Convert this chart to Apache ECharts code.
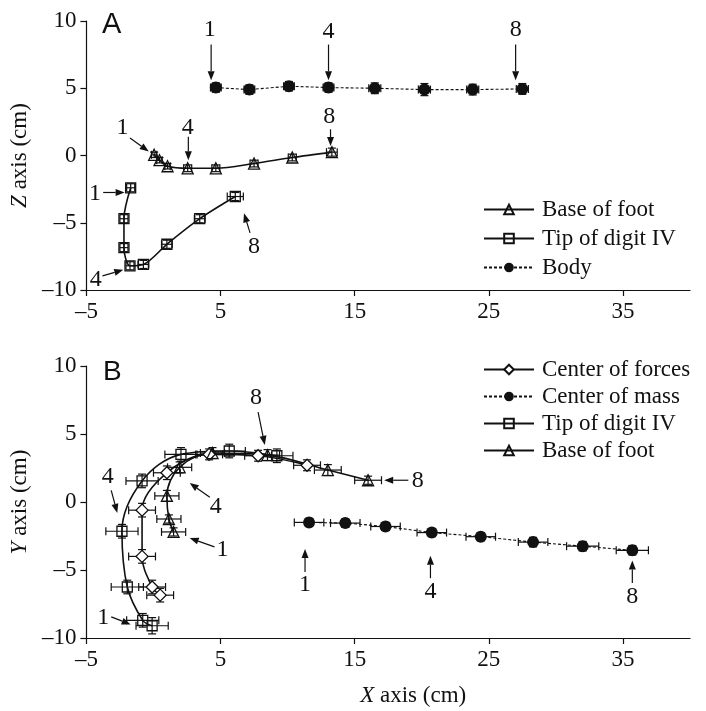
<!DOCTYPE html>
<html><head><meta charset="utf-8">
<script src="https://cdn.jsdelivr.net/npm/echarts@6/dist/echarts.min.js"></script>
<style>html,body{margin:0;padding:0;background:#fff}#c{width:706px;height:711px}</style>
</head><body><div id="c"></div>
<script>
// ---------- data ----------
const xTicks = [-5, 5, 15, 25, 35];
const yTicks = [-10, -5, 0, 5, 10];

// Panel A (X vs Z)
const baseA_x = [0.05, 0.45, 1.05, 2.55, 4.65, 7.5, 10.35, 13.3];
const baseA_y = [0.05, -0.35, -0.8, -0.95, -0.95, -0.6, -0.15, 0.25];
const baseA_xe = [0.2, 0.2, 0.2, 0.3, 0.3, 0.3, 0.3, 0.4];
const baseA_ye = [0.2, 0.2, 0.2, 0.25, 0.25, 0.25, 0.25, 0.3];

const tipA_x = [-1.7, -2.2, -2.2, -1.75, -0.75, 1.0, 3.45, 6.1];
const tipA_y = [-2.4, -4.7, -6.85, -8.2, -8.1, -6.6, -4.7, -3.05];
const tipA_xe = [0.3, 0.3, 0.3, 0.3, 0.4, 0.4, 0.4, 0.6];
const tipA_ye = [0.3, 0.3, 0.3, 0.3, 0.3, 0.3, 0.3, 0.3];

const bodyA_x = [4.65, 7.15, 10.1, 13.05, 16.5, 20.2, 23.8, 27.5];
const bodyA_y = [5.05, 4.9, 5.15, 5.05, 5.0, 4.9, 4.9, 4.95];
const bodyA_xe = [0.4, 0.4, 0.4, 0.4, 0.45, 0.45, 0.45, 0.45];
const bodyA_ye = [0.35, 0.35, 0.35, 0.35, 0.4, 0.45, 0.4, 0.4];

// Panel B (X vs Y)
const cofB_x = [0.5, -0.1, -0.85, -0.85, 1.0, 4.15, 7.8, 11.45];
const cofB_y = [-6.85, -6.25, -4.0, -0.6, 2.15, 3.5, 3.4, 2.7];
const cofB_xe = [1.0, 1.0, 1.0, 1.0, 1.0, 1.0, 1.0, 1.0];
const cofB_ye = [0.5, 0.5, 0.5, 0.5, 0.5, 0.4, 0.4, 0.4];

const comB_x = [11.6, 14.3, 17.3, 20.75, 24.4, 28.3, 32.0, 35.7];
const comB_y = [-1.5, -1.55, -1.8, -2.25, -2.55, -2.95, -3.25, -3.55];
const comB_xe = [1.1, 1.1, 1.1, 1.1, 1.1, 1.1, 1.2, 1.2];
const comB_ye = [0.3, 0.3, 0.3, 0.3, 0.3, 0.35, 0.35, 0.35];

const tipB_x = [-0.1, -0.8, -1.95, -2.35, -0.85, 2.05, 5.65, 9.2];
const tipB_y = [-9.1, -8.7, -6.25, -2.15, 1.55, 3.5, 3.75, 3.4];
const tipB_xe = [1.2, 1.2, 1.2, 1.2, 1.2, 1.2, 1.2, 1.2];
const tipB_ye = [0.6, 0.5, 0.5, 0.5, 0.5, 0.5, 0.5, 0.5];

const baseB_x = [1.5, 1.15, 1.0, 1.95, 4.4, 8.5, 13.0, 16.0];
const baseB_y = [-2.2, -1.25, 0.45, 2.55, 3.6, 3.45, 2.35, 1.6];
const baseB_xe = [0.9, 0.9, 0.9, 0.9, 0.9, 0.9, 1.0, 1.0];
const baseB_ye = [0.3, 0.3, 0.4, 0.4, 0.4, 0.4, 0.4, 0.3];

// annotations: [labelX, labelY, arrowFromX, arrowFromY, arrowToX, arrowToY, text]
const annA = [
  [4.2, 9.35, 4.3, 8.25, 4.3, 5.6, '1'],
  [13.05, 9.2, 13.05, 8.25, 13.05, 5.6, '4'],
  [27.0, 9.35, 27.0, 8.25, 27.0, 5.6, '8'],
  [-2.3, 2.1, -1.75, 1.3, -0.35, 0.3, '1'],
  [2.55, 2.05, 2.6, 1.4, 2.6, -0.35, '4'],
  [13.1, 2.85, 13.2, 1.95, 13.2, 0.7, '8'],
  [-4.35, -2.85, -3.75, -2.75, -2.15, -2.75, '1'],
  [-4.3, -9.25, -3.8, -8.95, -2.25, -8.5, '4'],
  [7.5, -6.8, 7.2, -5.75, 6.75, -4.3, '8']
];
const annB = [
  [7.65, 7.65, 7.8, 6.6, 8.3, 4.2, '8'],
  [-3.4, 1.85, -3.15, 0.85, -2.7, -0.8, '4'],
  [-3.75, -8.5, -3.15, -8.45, -1.7, -9.0, '1'],
  [4.65, -0.35, 4.2, 0.35, 2.7, 1.4, '4'],
  [5.15, -3.5, 4.55, -3.3, 2.7, -2.65, '1'],
  [11.3, -6.1, 11.3, -5.15, 11.3, -3.45, '1'],
  [20.65, -6.6, 20.65, -5.6, 20.65, -3.95, '4'],
  [35.7, -7.0, 35.7, -5.95, 35.7, -4.3, '8'],
  [19.7, 1.6, 19.0, 1.6, 17.2, 1.6, '8']
];

// ---------- helpers ----------
const zip = (xs, ys) => xs.map((x, i) => [x, ys[i]]);
const zipErr = (xs, ys, xe, ye) => xs.map((x, i) => [x, ys[i], xe[i], ye[i]]);
const FONT = '"Liberation Serif", "Times New Roman", serif';
const BLACK = '#111';
const FS = 23;

function errRender(params, api) {
  const x = api.value(0), y = api.value(1), xe = api.value(2), ye = api.value(3);
  const l = api.coord([x - xe, y]), r = api.coord([x + xe, y]);
  const b = api.coord([x, y - ye]), t = api.coord([x, y + ye]);
  const c = 4;
  const st = { stroke: BLACK, lineWidth: 1.2 };
  const mk = (x1, y1, x2, y2) => ({ type: 'line', shape: { x1, y1, x2, y2 }, style: st });
  return {
    type: 'group',
    children: [
      mk(l[0], l[1], r[0], r[1]),
      mk(l[0], l[1] - c, l[0], l[1] + c),
      mk(r[0], r[1] - c, r[0], r[1] + c),
      mk(b[0], b[1], t[0], t[1]),
      mk(b[0] - c, b[1], b[0] + c, b[1]),
      mk(t[0] - c, t[1], t[0] + c, t[1])
    ]
  };
}

function annRender(params, api) {
  const p = api.coord([api.value(0), api.value(1)]);
  const a = api.coord([api.value(2), api.value(3)]);
  const b = api.coord([api.value(4), api.value(5)]);
  const txt = params.context.texts[params.dataIndex];
  const dx = b[0] - a[0], dy = b[1] - a[1];
  const len = Math.sqrt(dx * dx + dy * dy) || 1;
  const ux = dx / len, uy = dy / len;
  const hl = 9, hw = 3.5;
  const bx = b[0] - ux * hl, by = b[1] - uy * hl;
  return {
    type: 'group',
    children: [
      { type: 'line', shape: { x1: a[0], y1: a[1], x2: bx, y2: by }, style: { stroke: BLACK, lineWidth: 1.2 } },
      { type: 'polygon', shape: { points: [[b[0], b[1]], [bx - uy * hw, by + ux * hw], [bx + uy * hw, by - ux * hw]] }, style: { fill: BLACK } },
      { type: 'text', x: p[0], y: p[1], style: { text: txt, font: '24px ' + FONT, fill: BLACK, align: 'center', verticalAlign: 'middle' } }
    ]
  };
}

function annSeries(arr, idx) {
  return {
    type: 'custom', xAxisIndex: idx, yAxisIndex: idx, silent: true, z: 10, clip: false,
    data: arr.map(r => r.slice(0, 6)),
    renderItem: (params, api) => { params.context.texts = arr.map(r => r[6]); return annRender(params, api); }
  };
}

function errSeries(xs, ys, xe, ye, idx) {
  return { type: 'custom', xAxisIndex: idx, yAxisIndex: idx, silent: true, z: 3,
    data: zipErr(xs, ys, xe, ye), renderItem: errRender };
}

const styles = {
  base: { symbol: 'triangle', symbolSize: 11, itemStyle: { color: 'rgba(255,255,255,0)', borderColor: BLACK, borderWidth: 1.3 }, lineStyle: { color: BLACK, width: 1.6, type: 'solid' } },
  tip: { symbol: 'rect', symbolSize: 10, itemStyle: { color: 'rgba(255,255,255,0)', borderColor: BLACK, borderWidth: 1.3 }, lineStyle: { color: BLACK, width: 1.6, type: 'solid' } },
  cof: { symbol: 'diamond', symbolSize: 12, itemStyle: { color: '#fff', borderColor: BLACK, borderWidth: 1.3 }, lineStyle: { color: BLACK, width: 1.6, type: 'solid' } },
  dot: { symbol: 'circle', symbolSize: 12, itemStyle: { color: BLACK, borderColor: BLACK, borderWidth: 0 }, lineStyle: { color: BLACK, width: 1.1, type: [3, 2] } }
};

function lineSeries(name, xs, ys, st, idx, smooth) {
  return Object.assign({
    name, type: 'line', xAxisIndex: idx, yAxisIndex: idx, data: zip(xs, ys),
    smooth: smooth, showAllSymbol: true, z: 5, animation: false
  }, JSON.parse(JSON.stringify(st)));
}

const fmt = v => String(v).replace('-', '\u2013');
const nameStyle = (extra) => Object.assign({ color: BLACK, fontFamily: FONT, fontSize: FS,
  rich: { it: { fontStyle: 'italic', fontFamily: FONT, fontSize: FS, color: BLACK } } }, extra || {});

function xAxis(idx, withName) {
  return {
    type: 'value', gridIndex: idx, min: -5, max: 40, interval: 10,
    axisLine: { onZero: false, lineStyle: { color: BLACK, width: 1.2 } },
    axisTick: { length: 6, lineStyle: { color: BLACK, width: 1.2 }, customValues: xTicks },
    axisLabel: { color: BLACK, fontFamily: FONT, fontSize: FS, margin: 10, formatter: fmt, customValues: xTicks },
    splitLine: { show: false },
    name: withName ? '{it|X} axis (cm)' : '',
    nameLocation: 'middle', nameGap: 46,
    nameTextStyle: nameStyle({ padding: [0, 0, 0, 50] })
  };
}
function yAxis(idx, letter) {
  return {
    type: 'value', gridIndex: idx, min: -10, max: 10, interval: 5,
    axisLine: { show: true, onZero: false, lineStyle: { color: BLACK, width: 1.2 } },
    axisTick: { show: true, length: 6, lineStyle: { color: BLACK, width: 1.2 } },
    axisLabel: { color: BLACK, fontFamily: FONT, fontSize: FS, margin: 10, formatter: fmt },
    splitLine: { show: false },
    name: '{it|' + letter + '} axis (cm)', nameLocation: 'middle', nameGap: 40, nameRotate: 90,
    nameTextStyle: nameStyle()
  };
}

const legendText = { color: BLACK, fontFamily: FONT, fontSize: FS, padding: [0, 0, 0, 3] };

const option = {
  animation: false,
  backgroundColor: '#fff',
  grid: [
    { left: 83, top: 21, right: 16, height: 269 },
    { left: 83, top: 366, right: 16, height: 272 }
  ],
  xAxis: [xAxis(0, false), xAxis(1, true)],
  yAxis: [yAxis(0, 'Z'), yAxis(1, 'Y')],
  legend: [
    { orient: 'vertical', left: 478, top: 193, itemWidth: 50, itemHeight: 12, itemGap: 6, textStyle: legendText, data: ['Base of foot', 'Tip of digit IV', 'Body'], selectedMode: false },
    { orient: 'vertical', left: 478, top: 353, itemWidth: 50, itemHeight: 12, itemGap: 4, textStyle: legendText, data: ['Center of forces', 'Center of mass', 'Tip of digit IV', 'Base of foot'], selectedMode: false }
  ],
  graphic: [
    { type: 'text', left: 102, top: 10, style: { text: 'A', font: '29px "Liberation Sans", Arial, sans-serif', fill: BLACK } },
    { type: 'text', left: 103, top: 358, style: { text: 'B', font: '28px "Liberation Sans", Arial, sans-serif', fill: BLACK } }
  ],
  series: [
    errSeries(baseA_x, baseA_y, baseA_xe, baseA_ye, 0),
    errSeries(tipA_x, tipA_y, tipA_xe, tipA_ye, 0),
    errSeries(bodyA_x, bodyA_y, bodyA_xe, bodyA_ye, 0),
    lineSeries('Base of foot', baseA_x, baseA_y, styles.base, 0, 0.3),
    lineSeries('Tip of digit IV', tipA_x, tipA_y, styles.tip, 0, 0.3),
    lineSeries('Body', bodyA_x, bodyA_y, styles.dot, 0, false),
    annSeries(annA, 0),

    errSeries(cofB_x, cofB_y, cofB_xe, cofB_ye, 1),
    errSeries(comB_x, comB_y, comB_xe, comB_ye, 1),
    errSeries(tipB_x, tipB_y, tipB_xe, tipB_ye, 1),
    errSeries(baseB_x, baseB_y, baseB_xe, baseB_ye, 1),
    lineSeries('Center of forces', cofB_x, cofB_y, styles.cof, 1, 0.35),
    lineSeries('Center of mass', comB_x, comB_y, styles.dot, 1, false),
    lineSeries('Tip of digit IV', tipB_x, tipB_y, styles.tip, 1, 0.35),
    lineSeries('Base of foot', baseB_x, baseB_y, styles.base, 1, 0.35),
    annSeries(annB, 1)
  ]
};

const chart = echarts.init(document.getElementById('c'), null, { renderer: 'canvas' });
chart.setOption(option);
</script>
</body></html>
